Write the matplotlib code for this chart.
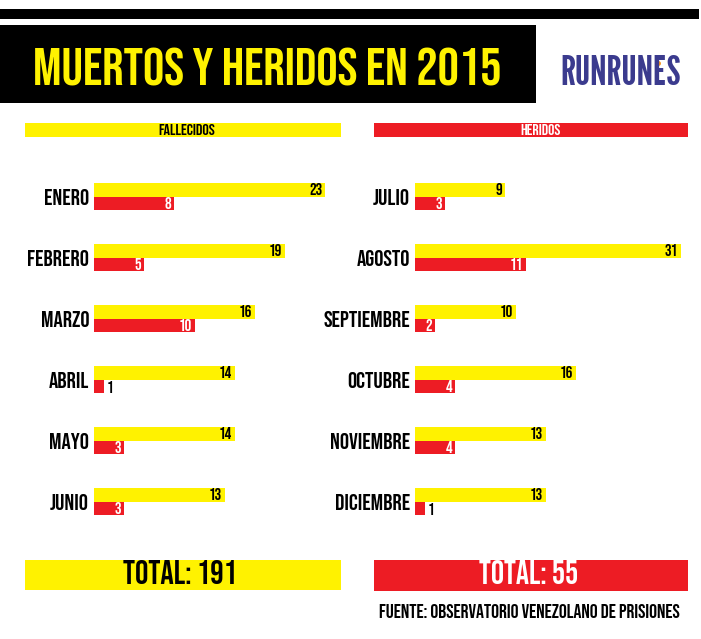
import matplotlib
matplotlib.use('Agg')
import matplotlib.pyplot as plt
from matplotlib import font_manager as fm
from matplotlib.patches import Rectangle

meses_izq = ['ENERO', 'FEBRERO', 'MARZO', 'ABRIL', 'MAYO', 'JUNIO']
fallecidos_izq = [23, 19, 16, 14, 14, 13]
heridos_izq = [8, 5, 10, 1, 3, 3]

meses_der = ['JULIO', 'AGOSTO', 'SEPTIEMBRE', 'OCTUBRE', 'NOVIEMBRE', 'DICIEMBRE']
fallecidos_der = [9, 31, 10, 16, 13, 13]
heridos_der = [3, 11, 2, 4, 4, 1]

AMARILLO = '#fff200'
ROJO = '#ed1c24'
AZUL = '#3b3b8e'

# fuentes condensadas, la primera que exista
disponibles = {f.name for f in fm.fontManager.ttflist}


def elegir(cands):
    for c in cands:
        if c in disponibles:
            return c
    return 'DejaVu Sans'


FUENTE = elegir(['Bebas Neue', 'League Gothic', 'Oswald', 'Antonio', 'Fjalla One',
                 'Roboto Condensed', 'IBM Plex Sans Condensed'])
FUENTE_LOGO = elegir(['League Gothic', 'Antonio', 'Pathway Gothic One', 'Oswald', FUENTE])
plt.rcParams['font.family'] = [FUENTE, 'DejaVu Sans']
plt.rcParams['font.weight'] = 'bold'

W, H = 701, 639
ESCALA = 10.05   # px por unidad
FILA = 61        # px entre meses

fig = plt.figure(figsize=(W / 100, H / 100), dpi=100)
rend = fig.canvas.get_renderer()

# fondo en pixeles para cajas y textos
bg = fig.add_axes([0, 0, 1, 1])
bg.set_xlim(0, W)
bg.set_ylim(H, 0)
bg.axis('off')


def ajustar(t, ancho):
    # escala el texto hasta el ancho medido en la referencia
    w = t.get_window_extent(rend).width
    t.set_fontsize(t.get_fontsize() * ancho / w)
    return t


def tam(texto, ancho):
    t = fig.text(0, 0, texto, fontsize=10)
    s = ajustar(t, ancho).get_fontsize()
    t.remove()
    return s


def caja(x0, y0, x1, y1, color):
    bg.add_patch(Rectangle((x0, y0), x1 - x0, y1 - y0, color=color, lw=0))


caja(0, 9, 699, 19, 'black')
caja(0, 25, 536, 103, 'black')
ajustar(bg.text(267.4, 85.7, 'MUERTOS Y HERIDOS EN 2015', color=AMARILLO,
                ha='center', va='baseline'), 473)
ajustar(bg.text(620.4, 85, 'RUNRUNES', color=AZUL, ha='center', va='baseline',
                family=[FUENTE_LOGO, 'DejaVu Sans']), 119)
bg.plot([658], [63], 'o', color='#f7941d', ms=2.5)

caja(25, 123, 341, 137, AMARILLO)
caja(374, 123, 688, 137, ROJO)
ajustar(bg.text(187, 135, 'FALLECIDOS', ha='center', va='baseline'), 58)
ajustar(bg.text(541, 135, 'HERIDOS', color='white', ha='center', va='baseline'), 41)

caja(25, 560, 341, 590, AMARILLO)
caja(374, 560, 688, 591, ROJO)
total_f = sum(fallecidos_izq) + sum(fallecidos_der)
total_h = sum(heridos_izq) + sum(heridos_der)
ajustar(bg.text(180, 584.3, f'TOTAL: {total_f}', ha='center', va='baseline'), 114.6)
ajustar(bg.text(528.7, 584.3, f'TOTAL: {total_h}', color='white',
                ha='center', va='baseline'), 99.3)
ajustar(bg.text(680, 618, 'FUENTE: OBSERVATORIO VENEZOLANO DE PRISIONES',
                ha='right', va='baseline', fontweight='normal'), 306)

T_MES = tam('SEPTIEMBRE', 87.3)
T_VAL = tam('23', 13.3)


def panel(x0, x1, meses, fall, her):
    y_top, y_bot = 170, 530
    ax = fig.add_axes([x0 / W, 1 - y_bot / H, (x1 - x0) / W, (y_bot - y_top) / H])
    ax.set_xlim(0, (x1 - x0) / ESCALA)
    y0 = (197 - y_top) / FILA
    ax.set_ylim((y_bot - y_top) / FILA - y0, -y0)
    ax.axis('off')

    filas = list(range(len(meses)))
    ha = 14 / FILA
    hr = 13.5 / FILA
    ax.barh([i - ha / 2 for i in filas], fall, height=ha, color=AMARILLO)
    ax.barh([i + hr / 2 for i in filas], her, height=hr, color=ROJO)

    xmax = ax.get_xlim()[1]
    for i, (mes, f, h) in enumerate(zip(meses, fall, her)):
        ax.annotate(mes, (0, i), xycoords=('axes fraction', 'data'),
                    xytext=(-5, -8), textcoords='offset pixels',
                    ha='right', va='baseline', fontsize=T_MES,
                    annotation_clip=False)
        ax.annotate(str(f), (min(f, xmax), i - ha / 2), xytext=(-3, -5.5),
                    textcoords='offset pixels', ha='right', va='baseline',
                    fontsize=T_VAL, annotation_clip=False)
        if h > 1:
            ax.annotate(str(h), (h, i + hr / 2), xytext=(-3, -5.5),
                        textcoords='offset pixels', ha='right', va='baseline',
                        fontsize=T_VAL, color='white', annotation_clip=False)
        else:
            ax.annotate(str(h), (h, i + hr / 2), xytext=(3, -6.5),
                        textcoords='offset pixels', ha='left', va='baseline',
                        fontsize=T_VAL, annotation_clip=False)
    return ax


panel(94, 341, meses_izq, fallecidos_izq, heridos_izq)
panel(415, 681, meses_der, fallecidos_der, heridos_der)

fig.savefig('out.png', dpi=100)
